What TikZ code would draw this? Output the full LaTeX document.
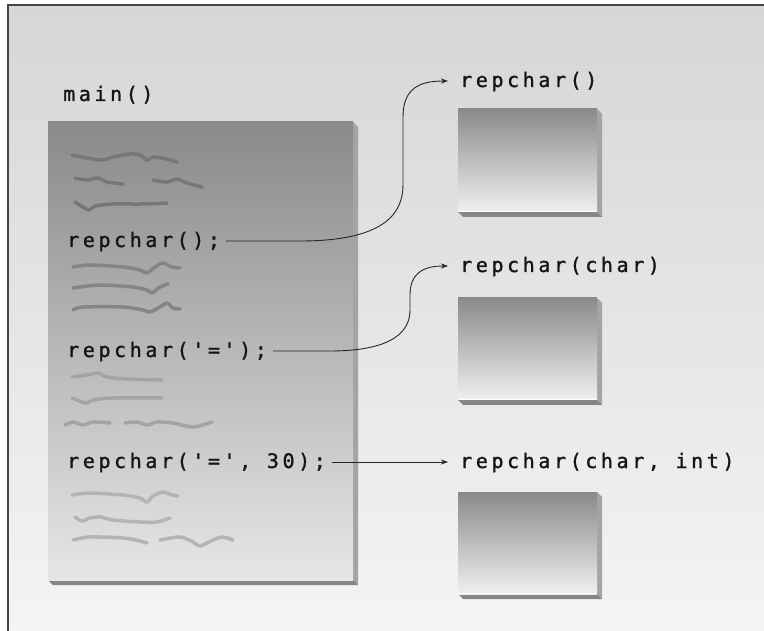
\documentclass[tikz,border=0pt]{standalone}
\usepackage{fontspec}
\newfontfamily\codefont{DejaVu Sans Mono}[LetterSpace=18,FakeBold=1.3]
\usetikzlibrary{arrows.meta,calc}
\definecolor{txt}{HTML}{151515}
\definecolor{bgtop}{HTML}{D6D6D6}
\definecolor{bgbot}{HTML}{F4F4F4}
\definecolor{frame}{HTML}{454545}
\definecolor{boxtop}{HTML}{8A8A8A}
\definecolor{boxbot}{HTML}{E6E6E6}
\definecolor{rboxbot}{HTML}{F0F0F0}
\definecolor{shR}{HTML}{A4A4A4}
\definecolor{shB}{HTML}{858585}
\definecolor{sqa}{HTML}{777777}
\definecolor{sqb}{HTML}{858585}
\definecolor{sqc}{HTML}{A4A4A4}
\definecolor{sqd}{HTML}{B4B4B4}
\begin{document}
\begin{tikzpicture}[x=1pt,y=-1pt,
  code/.style={anchor=base west,inner sep=0pt,font=\codefont\fontsize{20}{24}\selectfont,text=txt},
  conn/.style={draw=black!85,line width=0.9pt,-{Stealth[length=7pt,width=5pt,inset=2pt]}},
  sq/.style={line width=3.5pt,line cap=round,line join=round},
  rshadeR/.style={fill=shR},
  rshadeB/.style={fill=shB}]
\useasboundingbox (0,0) rectangle (764,631);
\fill[white] (0,0) rectangle (764,631);
\shade[top color=bgtop,bottom color=bgbot] (8,5) rectangle (764,631);
\draw[line width=1.5pt,draw=frame] (8,631) -- (8,5) -- (764,5);

% main box
\fill[rshadeR] (353,122) -- (358,127) -- (358,585) -- (353,580) -- cycle;
\fill[rshadeB] (48,580) -- (353,580) -- (358,585) -- (53,585) -- cycle;
\shade[top color=boxtop,bottom color=boxbot] (48,122) rectangle (353,580);

% right boxes
\foreach \t/\b in {109/212,298/400,492/594}{
  \fill[rshadeR] (597,\t) -- (602,\t+5) -- (602,\b+5) -- (597,\b) -- cycle;
  \fill[rshadeB] (458,\b) -- (597,\b) -- (602,\b+5) -- (463,\b+5) -- cycle;
  \shade[top color=boxtop,bottom color=rboxbot] (458,\t) rectangle (597,\b);
  \draw[white,line width=0.8pt] (459,\b-0.5) -- (596,\b-0.5);
}

% squiggles
\draw[sq,sqa] plot[smooth] coordinates {(72,155) (87,158) (102,160) (113,157) (130,154) (140,155) (147,160) (153,157) (167,159) (177,162)};
\draw[sq,sqa] plot[smooth] coordinates {(75,178) (87,180) (98,178) (107,182) (123,184)};
\draw[sq,sqa] plot[smooth] coordinates {(153,180) (167,182) (177,179) (187,183) (202,187)};
\draw[sq,sqa] plot[smooth] coordinates {(75,202) (83,207) (89,210) (95,206) (113,204) (140,204) (167,203)};
\draw[sq,sqb] plot[smooth] coordinates {(73,267) (90,265) (123,267) (140,270) (147,273) (155,267) (163,263) (172,267) (180,268)};
\draw[sq,sqb] plot[smooth] coordinates {(73,288) (100,285) (133,287) (147,290) (152,293) (160,287) (168,284)};
\draw[sq,sqb] plot[smooth] coordinates {(73,310) (83,307) (123,307) (143,310) (150,312) (160,307) (167,303) (173,308) (180,309)};
\draw[sq,sqc] plot[smooth] coordinates {(72,377) (87,375) (98,373) (107,377) (127,379) (162,380)};
\draw[sq,sqc] plot[smooth] coordinates {(72,398) (82,402) (87,403) (93,400) (113,398) (162,398)};
\draw[sq,sqc] plot[smooth] coordinates {(65,425) (73,422) (83,425) (93,422) (110,423)};
\draw[sq,sqc] plot[smooth] coordinates {(125,423) (137,422) (147,425) (157,422) (173,423) (193,427) (212,422)};
\draw[sq,sqd] plot[smooth] coordinates {(72,495) (90,493) (123,495) (140,498) (147,502) (153,496) (163,492) (172,495) (178,496)};
\draw[sq,sqd] plot[smooth] coordinates {(75,517) (82,521) (90,518) (100,517) (113,520) (140,522) (157,522) (170,518)};
\draw[sq,sqd] plot[smooth] coordinates {(73,540) (90,537) (123,538) (140,541) (147,543)};
\draw[sq,sqd] plot[smooth] coordinates {(160,540) (180,537) (193,542) (200,546) (213,540) (222,537) (233,540)};

% texts
\node[code] (mainlbl) at (63,101) {main()};
\node[code] (call1) at (67,247) {repchar();};
\node[code] (call2) at (67,357) {repchar('=');};
\node[code] (call3) at (67,468) {repchar('=', 30);};
\node[code] (def1) at (460,87) {repchar()};
\node[code] (def2) at (460,272) {repchar(char)};
\node[code] (def3) at (460,468) {repchar(char, int)};

% connectors
\draw[conn] ($(call1.base east)+(6,-6)$) -- (300,241)
  .. controls (382,241) and (403,215) .. (403,185) -- (403,117)
  .. controls (403,88) and (420,81) .. ($(def1.base west)+(-12,-6)$);
\draw[conn] ($(call2.base east)+(6,-6)$) -- (330,351)
  .. controls (395,351) and (410,330) .. (410,310) -- (410,295)
  .. controls (410,272) and (425,266) .. ($(def2.base west)+(-12,-6)$);
\draw[conn] ($(call3.base east)+(6,-6)$) -- ($(def3.base west)+(-12,-6)$);
\end{tikzpicture}
\end{document}
